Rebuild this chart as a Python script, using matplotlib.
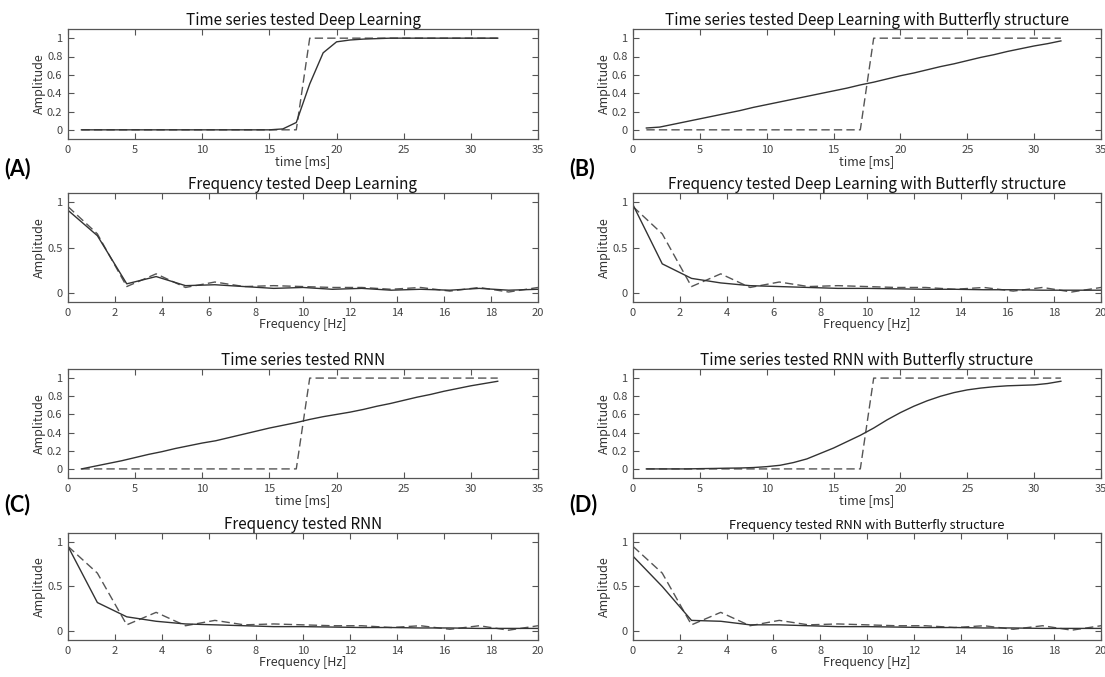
import numpy as np
import matplotlib
matplotlib.use("Agg")
import matplotlib.pyplot as plt
from matplotlib.ticker import FixedLocator

plt.rcParams['font.family'] = ['Noto Sans CJK JP', 'DejaVu Sans']

# time axis (ms) and target step
t_ms = list(range(1, 33))
step_target = [0.0] * 17 + [1.0] * 15

dl_time = [0, 0, 0, 0, 0, 0, 0, 0, 0, 0, 0, 0, 0, 0, 0, 0.01, 0.08, 0.50, 0.84, 0.96,
           0.98, 0.99, 0.995, 1.0, 1.0, 1.0, 1.0, 1.0, 1.0, 1.0, 1.0, 1.0]
dl_bf_time = [0.02, 0.03, 0.06, 0.09, 0.12, 0.15, 0.18, 0.21, 0.245, 0.275, 0.305, 0.335,
              0.365, 0.395, 0.425, 0.455, 0.49, 0.52, 0.555, 0.59, 0.62, 0.655, 0.69, 0.72,
              0.755, 0.79, 0.82, 0.855, 0.885, 0.915, 0.94, 0.97]
rnn_time = [0.0, 0.03, 0.06, 0.09, 0.125, 0.16, 0.19, 0.225, 0.255, 0.285, 0.31, 0.345,
            0.38, 0.415, 0.45, 0.48, 0.51, 0.545, 0.575, 0.60, 0.625, 0.655, 0.69, 0.72,
            0.755, 0.79, 0.82, 0.855, 0.885, 0.915, 0.94, 0.965]
rnn_bf_time = [0.0, 0.0, 0.0, 0.0, 0.003, 0.005, 0.008, 0.01, 0.015, 0.025, 0.04, 0.07,
               0.11, 0.17, 0.23, 0.30, 0.37, 0.45, 0.54, 0.62, 0.69, 0.75, 0.80, 0.84,
               0.87, 0.89, 0.905, 0.915, 0.92, 0.925, 0.94, 0.965]

# frequency axis (Hz)
f_hz = [0, 1.25, 2.5, 3.75, 5, 6.25, 7.5, 8.75, 10, 11.25, 12.5, 13.75, 15, 16.25, 17.5, 18.75, 20]
spec_target = [0.95, 0.65, 0.07, 0.21, 0.06, 0.12, 0.07, 0.08, 0.07, 0.06, 0.06, 0.04,
               0.06, 0.02, 0.06, 0.01, 0.06]
dl_freq = [0.91, 0.63, 0.10, 0.18, 0.08, 0.09, 0.07, 0.05, 0.06, 0.04, 0.05, 0.03,
           0.04, 0.03, 0.05, 0.03, 0.04]
dl_bf_freq = [0.97, 0.32, 0.16, 0.11, 0.08, 0.07, 0.06, 0.05, 0.05, 0.045, 0.04, 0.04,
              0.035, 0.035, 0.03, 0.03, 0.03]
rnn_freq = [0.95, 0.32, 0.16, 0.11, 0.08, 0.07, 0.06, 0.05, 0.05, 0.045, 0.04, 0.04,
            0.035, 0.035, 0.03, 0.03, 0.03]
rnn_bf_freq = [0.84, 0.50, 0.12, 0.11, 0.07, 0.07, 0.06, 0.05, 0.05, 0.045, 0.04, 0.04,
               0.035, 0.035, 0.03, 0.03, 0.03]

titles = ["Time series tested Deep Learning",
          "Time series tested Deep Learning with Butterfly structure",
          "Frequency tested Deep Learning",
          "Frequency tested Deep Learning with Butterfly structure",
          "Time series tested RNN",
          "Time series tested RNN with Butterfly structure",
          "Frequency tested RNN",
          "Frequency tested RNN with Butterfly structure"]
panel_tags = ["(A)", "(B)", "(C)", "(D)"]

W, H = 1105, 677
fig = plt.figure(figsize=(W / 100, H / 100), dpi=100)

col_x = [(68, 538), (633, 1101)]
row_y = [(29, 139), (193, 302), (369, 478), (533, 640)]

solid_c = '#333333'
dash_c = '#555555'


def make_ax(col, row):
    x0, x1 = col_x[col]
    y0, y1 = row_y[row]
    ax = fig.add_axes([x0 / W, 1 - y1 / H, (x1 - x0) / W, (y1 - y0) / H])
    for s in ax.spines.values():
        s.set_color('#555555')
        s.set_linewidth(0.9)
    ax.tick_params(direction='in', top=True, right=True, length=4, width=0.8,
                   colors='#555555', labelcolor='#444444', labelsize=8, pad=4)
    return ax


def time_panel(ax, pred, title, title_fs=11):
    ax.plot(t_ms, step_target, ls=(0, (6, 3)), color=dash_c, lw=1.0)
    ax.plot(t_ms, pred, color=solid_c, lw=1.0)
    ax.set_xlim(0, 35)
    ax.set_ylim(-0.1, 1.1)
    ax.xaxis.set_major_locator(FixedLocator([0, 5, 10, 15, 20, 25, 30, 35]))
    ax.yaxis.set_major_locator(FixedLocator([0, 0.2, 0.4, 0.6, 0.8, 1]))
    ax.set_yticklabels(['0', '0.2', '0.4', '0.6', '0.8', '1'])
    ax.set_xlabel('time [ms]', fontsize=9, color='#333333', labelpad=0)
    ax.set_ylabel('Amplitude', fontsize=9, color='#333333', labelpad=1)
    ax.set_title(title, fontsize=title_fs, color='#111111', pad=3)


def freq_panel(ax, pred, title, title_fs=11):
    ax.plot(f_hz, spec_target, ls=(0, (6, 3)), color=dash_c, lw=1.0)
    ax.plot(f_hz, pred, color=solid_c, lw=1.0)
    ax.set_xlim(0, 20)
    ax.set_ylim(-0.1, 1.1)
    ax.xaxis.set_major_locator(FixedLocator(list(range(0, 21, 2))))
    ax.yaxis.set_major_locator(FixedLocator([0, 0.5, 1]))
    ax.set_yticklabels(['0', '0.5', '1'])
    ax.set_xlabel('Frequency [Hz]', fontsize=9, color='#333333', labelpad=0)
    ax.set_ylabel('Amplitude', fontsize=9, color='#333333', labelpad=1)
    ax.set_title(title, fontsize=title_fs, color='#111111', pad=3)


time_panel(make_ax(0, 0), dl_time, titles[0])
time_panel(make_ax(1, 0), dl_bf_time, titles[1])
freq_panel(make_ax(0, 1), dl_freq, titles[2])
freq_panel(make_ax(1, 1), dl_bf_freq, titles[3])
time_panel(make_ax(0, 2), rnn_time, titles[4])
time_panel(make_ax(1, 2), rnn_bf_time, titles[5])
freq_panel(make_ax(0, 3), rnn_freq, titles[6])
freq_panel(make_ax(1, 3), rnn_bf_freq, titles[7], title_fs=9.3)

# panel tags
tag_pos = [(4, 169), (569, 169), (4, 505), (569, 505)]
for tag, (px, py) in zip(panel_tags, tag_pos):
    fig.text(px / W, 1 - py / H, tag, fontsize=15.5, fontweight='bold',
             family=['Lato', 'DejaVu Sans'], va='center', ha='left')

fig.savefig('out.png', dpi=100)
